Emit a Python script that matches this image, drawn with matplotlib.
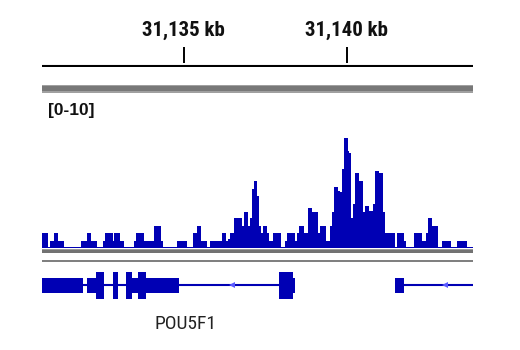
import matplotlib
matplotlib.use("Agg")
import matplotlib.pyplot as plt
from matplotlib.patches import Rectangle

# region shown (kb)
view_start = 31130.65
view_end = 31143.86

# ruler ticks
tick_kb = [31135, 31140]
tick_labels = ["31,135 kb", "31,140 kb"]

# signal track: step edges (kb offset from view_start) and heights
edge_offsets = [0.000, 0.184, 0.245, 0.368, 0.491, 0.675, 1.196, 1.380, 1.503, 1.687,
                1.871, 1.933, 2.178, 2.209, 2.393, 2.515, 2.822, 2.883, 3.129, 3.436,
                3.650, 3.712, 4.141, 4.448, 4.632, 4.755, 4.877, 5.061, 5.153, 5.522,
                5.644, 5.706, 5.767, 5.890, 6.135, 6.196, 6.319, 6.380, 6.442, 6.503,
                6.595, 6.656, 6.718, 6.779, 6.902, 6.963, 7.086, 7.331, 7.454, 7.515,
                7.761, 7.822, 7.883, 8.037, 8.160, 8.282, 8.466, 8.528, 8.712, 8.834,
                8.896, 8.957, 9.080, 9.141, 9.203, 9.264, 9.387, 9.417, 9.479, 9.540,
                9.601, 9.724, 9.847, 9.908, 10.031, 10.153, 10.215, 10.337, 10.460, 10.522,
                10.828, 10.890, 11.104, 11.166, 11.411, 11.657, 11.779, 11.840, 11.963, 12.147,
                12.270, 12.546, 12.730, 13.037, 13.221]
signal = [1.2, 0.1, 0.6, 1.2, 0.6, 0.1, 0.6, 1.2, 0.6, 0.1,
          0.6, 1.2, 0.6, 1.2, 0.6, 0.1, 0.6, 1.2, 0.6, 1.8,
          0.6, 0.1, 0.6, 0.1, 1.2, 1.8, 0.6, 0.1, 0.6, 1.2,
          0.6, 0.7, 1.2, 2.4, 1.8, 2.9, 1.8, 2.4, 4.7, 5.4,
          4.2, 1.8, 1.2, 1.8, 1.2, 0.6, 1.2, 0.1, 0.6, 1.2,
          0.6, 1.2, 1.8, 1.2, 3.2, 2.9, 1.2, 1.8, 0.6, 1.8,
          2.9, 4.9, 4.6, 4.5, 6.3, 8.8, 7.8, 7.6, 2.4, 3.5,
          6.0, 5.4, 2.9, 3.4, 3.0, 3.5, 6.2, 6.0, 2.9, 1.2,
          0.1, 1.2, 0.6, 0.1, 1.2, 0.6, 1.2, 2.4, 1.8, 0.1,
          0.6, 0.1, 0.6, 0.1]
data_range = (0, 10)

# gene track (kb offsets): thin = UTR, thick = coding exons
gene_lines = [(0.000, 7.761), (10.828, 13.221)]
utr_blocks = [(0.000, 1.258), (1.380, 1.656), (2.761, 2.945), (3.190, 4.202),
              (7.699, 7.761), (10.828, 11.104)]
cds_blocks = [(1.656, 1.902), (2.178, 2.331), (2.577, 2.761), (2.945, 3.190),
              (7.270, 7.699)]
strand_marks = [5.828, 12.347]
gene_name = "POU5F1"
gene_label_kb = 31135.05

W, H = 520, 350
blue = "#0000b4"
narrow = ["Roboto Condensed", "Archivo Narrow", "DejaVu Sans"]

fig = plt.figure(figsize=(W / 100, H / 100), dpi=100)
X0, X1 = 42, 472.7


def px_axes(y_top, y_bot):
    ax = fig.add_axes([X0 / W, 1 - y_bot / H, (X1 - X0) / W, (y_bot - y_top) / H])
    ax.set_xlim(view_start, view_end)
    ax.axis("off")
    return ax


def band(y_top, y_bot, color):
    fig.add_artist(Rectangle((X0 / W, 1 - y_bot / H), (X1 - X0) / W, (y_bot - y_top) / H,
                             transform=fig.transFigure, color=color, lw=0))


# ruler
ax_r = px_axes(20, 67)
ax_r.set_ylim(0, 47)
ax_r.axhline(1, color="black", lw=1.5)
ax_r.vlines(tick_kb, 4, 20, color="black", lw=1.4)
for kb, lab in zip(tick_kb, tick_labels):
    ax_r.text(kb, 37, lab, ha="center", va="center", fontsize=15,
              fontweight="bold", family=narrow, color="#111111")

# separators
band(85, 92.7, "#a0a0a0")
band(86.5, 91.2, "#787878")

# signal
ax_s = px_axes(123, 248)
ax_s.set_ylim(*data_range)
edges = [view_start + e for e in edge_offsets]
ax_s.stairs(signal, edges, fill=True, color=blue, lw=0)
fig.text(48 / W, 1 - 110.5 / H, "[%d-%d]" % data_range, ha="left", va="center",
         fontsize=12.5, fontweight="bold", family=["Liberation Sans", "DejaVu Sans"],
         color="#111111")

band(248.5, 252.7, "#9a9a9a")
band(249.7, 252.7, "#727272")
band(259.5, 262.3, "#808080")

# gene track
ax_g = px_axes(265, 305)
ax_g.set_ylim(20, -20)
for a, b in gene_lines:
    ax_g.plot([view_start + a, view_start + b], [0, 0], color=blue, lw=1.5,
              solid_capstyle="butt")
for a, b in utr_blocks:
    ax_g.add_patch(Rectangle((view_start + a, -7.5), b - a, 15, color=blue, lw=0))
for a, b in cds_blocks:
    ax_g.add_patch(Rectangle((view_start + a, -13.5), b - a, 27, color=blue, lw=0))
ax_g.plot([view_start + s for s in strand_marks], [0] * len(strand_marks), ls="none",
          marker="<", ms=4.5, color="#5a5aff", mew=0)

# gene name below the track
ax_g.text(gene_label_kb, 39, gene_name, ha="center", va="center", fontsize=14,
          family=narrow, color="#222222", clip_on=False)

fig.savefig("out.png", dpi=100)
